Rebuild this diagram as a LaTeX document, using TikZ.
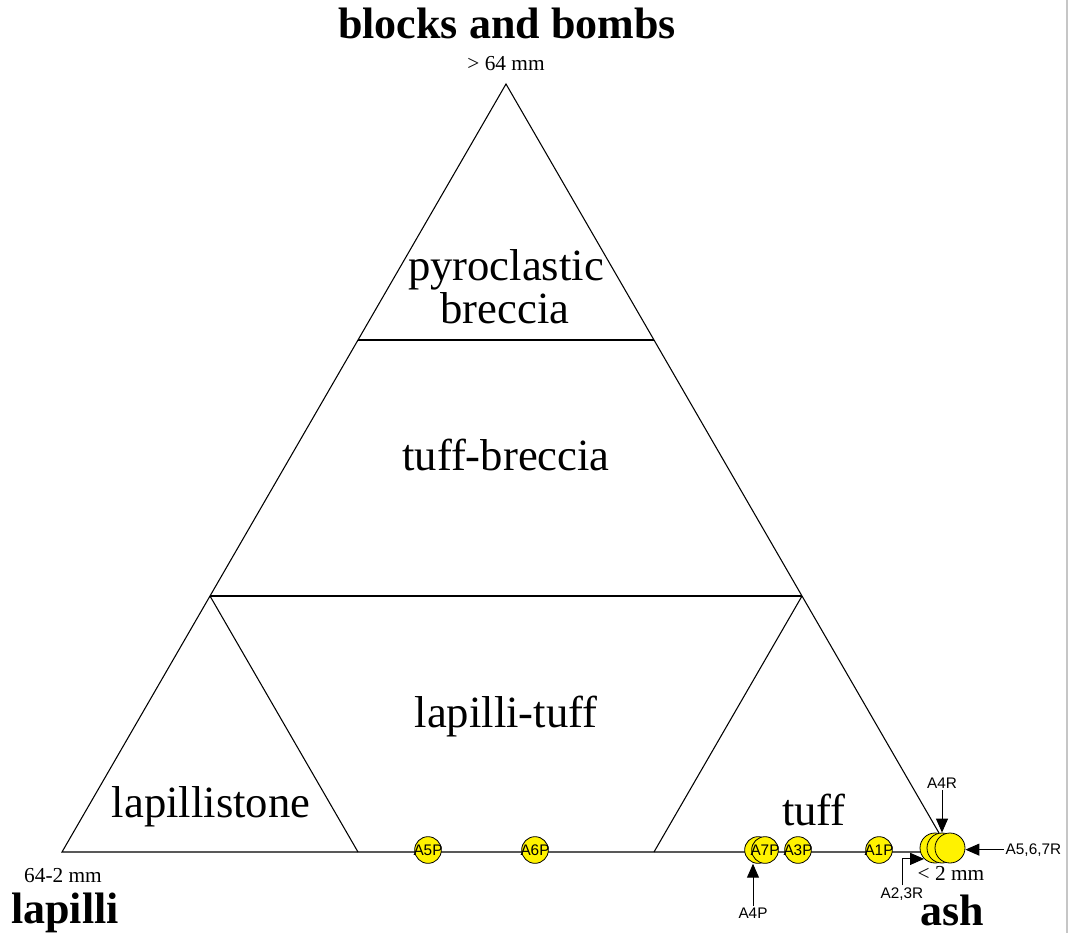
\documentclass[tikz,border=0pt]{standalone}
\usepackage{fontspec}
\setmainfont{Liberation Serif}
\setsansfont{Liberation Sans}
\usepackage{tikz}
\usetikzlibrary{positioning}
\usetikzlibrary{calc}
\usetikzlibrary{arrows.meta}
\tikzset{
	field/.style={font=\fontsize{33.5}{38}\selectfont, anchor=base},
	pole/.style={font=\bfseries\fontsize{33}{38}\selectfont, anchor=base, inner sep=1pt},
	grain/.style={font=\fontsize{16}{18}\selectfont, anchor=base, inner sep=1pt},
	tag/.style={font=\sffamily\fontsize{11.5}{13}\selectfont, inner sep=1pt},
	sample/.style={circle, draw, fill=yellow, minimum size=20pt, inner sep=0pt, line width=0.6pt},
	bigsample/.style={sample, minimum size=22.5pt},
	pointer/.style={-{Triangle[length=10.5pt,width=9pt]}, line width=0.75pt}
}

\begin{document}
\begin{tikzpicture}[x=0.75pt, y=-0.75pt, line width=0.8pt]
		\useasboundingbox (0,0) rectangle (1072,933);
		\draw [gray!45, line width=1pt] (1067,0) -- (1067,933);
		\coordinate (Top) at (506,84);
		\coordinate (Left) at (62,852);
		\coordinate (Right) at (950,852);
		\coordinate (L1) at ($(Left)!1/3!(Top)$);
		\coordinate (L2) at ($(Left)!2/3!(Top)$);
		\coordinate (R1) at ($(Right)!1/3!(Top)$);
		\coordinate (R2) at ($(Right)!2/3!(Top)$);
		\coordinate (B1) at ($(Left)!1/3!(Right)$);
		\coordinate (B2) at ($(Left)!2/3!(Right)$);
		\draw (Top) -- (Left) -- (Right) -- cycle;
		\draw (L2) -- (R2);
		\draw (L1) -- (R1);
		\draw (L1) -- (B1);
		\draw (R1) -- (B2);
		
		\node [pole] at (507,38) (BB) {blocks and bombs};
		\node [grain] at (506,70) (BBsize) {> 64 mm};
		\node [pole] at (65,923) (Lap) {lapilli};
		\node [grain] at (63,882) (Lapsize) {64-2 mm};
		\node [pole] at (952,925) (Ash) {ash};
		\node [grain] at (951,880) (Ashsize) {< 2 mm};
		
		\node [field] at (506,280) (PB) {pyroclastic};
		\node [field] at (505,323) (PB2) {breccia};
		\node [field] at (506,470) (TB) {tuff-breccia};
		\node [field] at (506,727) (LT) {lapilli-tuff};
		\node [field] at (211,817) (LS) {lapillistone};
		\node [field] at (814,825) (TF) {tuff};
		
		\node [sample, label={[tag]center:A5P}] at (428,850) (sA5P) {};
		\node [sample, label={[tag]center:A6P}] at (535,850) (sA6P) {};
		\node [sample] at (758,850) (sA4P) {};
		\node [sample, label={[tag]center:A7P}] at (765,850) (sA7P) {};
		\node [sample, label={[tag]center:A3P}] at (798,850) (sA3P) {};
		\node [sample, label={[tag]center:A1P}] at (879,850) (sA1P) {};
		\node [bigsample] at (935,848) (sA23R) {};
		\node [bigsample] at (942,848) (sA4R) {};
		\node [bigsample] at (950,848) (sA567R) {};
		
		\node [tag, anchor=base] at (942,788) (tA4R) {A4R};
		\node [tag, anchor=base east] at (1063,854) (tA567R) {A5,6,7R};
		\node [tag, anchor=base] at (902,898) (tA23R) {A2,3R};
		\node [tag, anchor=base] at (753,918) (tA4P) {A4P};
		\draw [pointer] (tA4R.south) -- (sA4R.north);
		\draw [pointer] (tA567R.west) -- (tA567R.west -| sA567R.east);
		\draw [pointer] (tA4P.north) -- (tA4P.north |- sA4P.south);
		\draw [pointer] (tA23R.north) |- (sA23R.south west);
		
		\end{tikzpicture}
\end{document}
